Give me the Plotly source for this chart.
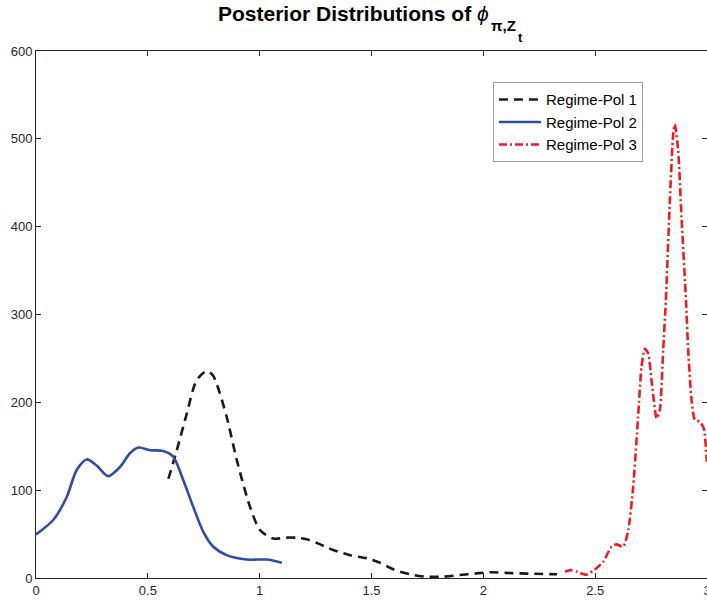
import plotly.graph_objects as go

# Regime-Pol 1 (black dashed)
x1 = [0.592, 0.629, 0.674, 0.718, 0.763, 0.79, 0.808, 0.853, 0.898, 0.957, 1.002, 1.061, 1.12, 1.166,
      1.21, 1.255, 1.329, 1.404, 1.478, 1.538, 1.597, 1.672, 1.746, 1.821, 1.895, 1.97, 2.03, 2.1, 2.2, 2.33]
y1 = [113, 145, 187, 225, 235.6, 231, 221, 183, 134, 81, 54.5, 45, 46, 45.8,
      44, 40, 31.8, 26, 22.4, 17.4, 9.9, 4.2, 1.5, 1.5, 3.4, 5.3, 6.5, 5.8, 5.0, 4.2]

# Regime-Pol 2 (blue solid)
x2 = [0.0, 0.077, 0.137, 0.182, 0.227, 0.271, 0.323, 0.376, 0.42, 0.458, 0.51, 0.569, 0.614, 0.659,
      0.703, 0.748, 0.793, 0.853, 0.942, 1.032, 1.099]
y2 = [49.6, 66, 92, 123, 135, 128, 116, 126.5, 142, 148.5, 145.5, 144.7, 138, 111,
      81, 52.6, 35.6, 26, 21, 21, 17.4]

# Regime-Pol 3 (red dash-dot)
x3 = [2.365, 2.39, 2.42, 2.46, 2.50, 2.536, 2.573, 2.596, 2.625, 2.648, 2.67, 2.692, 2.707, 2.722,
      2.737, 2.752, 2.775, 2.789, 2.804, 2.816, 2.834, 2.849, 2.856, 2.871, 2.886, 2.906, 2.916,
      2.931, 2.946, 2.968, 2.986, 2.998, 3.0]
y3 = [7.2, 9, 7, 3.8, 10, 18.5, 35.6, 38.3, 35.6, 54.6, 104, 183.5, 240, 261,
      255.6, 225, 181.7, 191, 259, 316, 430, 506, 516.5, 487, 411, 316, 259,
      202.5, 180, 178, 170, 138, 132]

x_ticks = [0, 0.5, 1, 1.5, 2, 2.5, 3]
x_tick_labels = ["0", "0.5", "1", "1.5", "2", "2.5", "3"]
y_ticks = [0, 100, 200, 300, 400, 500, 600]
y_tick_labels = ["0", "100", "200", "300", "400", "500", "600"]

FONT = "Liberation Sans, Arial, Helvetica, sans-serif"
AX = "#262626"

fig = go.Figure()
fig.add_trace(go.Scatter(x=x1, y=y1, mode="lines", name="Regime-Pol 1",
                         line=dict(color="#1a1a1a", width=2.6, dash="9px,6px", shape="spline", smoothing=0.8)))
fig.add_trace(go.Scatter(x=x2, y=y2, mode="lines", name="Regime-Pol 2",
                         line=dict(color="#2f4ea2", width=2.6, shape="spline", smoothing=0.8)))
fig.add_trace(go.Scatter(x=x3, y=y3, mode="lines", name="Regime-Pol 3",
                         line=dict(color="#f01a24", width=2.6, dash="8px,3px,2px,3px", shape="spline", smoothing=0.6)))

fig.update_layout(
    width=707, height=603,
    margin=dict(l=36, r=0, t=51, b=25, autoexpand=False),
    paper_bgcolor="white", plot_bgcolor="white",
    font=dict(family=FONT, size=13, color=AX),
    showlegend=True,
    legend=dict(x=0.681, y=0.9406, xanchor="left", yanchor="top",
                bgcolor="white", bordercolor="#a0a0a0", borderwidth=1,
                font=dict(family=FONT, size=15, color="#000000"),
                tracegroupgap=0, itemwidth=42),
)
# Title pieces: main text with phi, subscript, and sub-subscript
fig.add_annotation(text="<b>Posterior Distributions of </b><i>ϕ</i>", xref="paper", yref="paper",
                   x=0.678, y=1.072, xanchor="right", yanchor="middle", showarrow=False,
                   font=dict(family=FONT, size=21, color="#000000"))
fig.add_annotation(text="<b>π,Z</b>", xref="paper", yref="paper",
                   x=0.675, y=1.049, xanchor="left", yanchor="middle", showarrow=False,
                   font=dict(family=FONT, size=15, color="#000000"))
fig.add_annotation(text="<b>t</b>", xref="paper", yref="paper",
                   x=0.716, y=1.025, xanchor="left", yanchor="middle", showarrow=False,
                   font=dict(family=FONT, size=13, color="#000000"))

fig.update_xaxes(range=[0, 3], tickvals=x_ticks, ticktext=x_tick_labels, automargin=False,
                 ticklabeloverflow="allow",
                 showgrid=False, zeroline=False, showline=True, linecolor=AX, linewidth=1,
                 mirror="ticks", ticks="inside", ticklen=5, tickcolor=AX,
                 tickfont=dict(size=13, color=AX, family=FONT))
fig.update_yaxes(range=[0, 600], tickvals=y_ticks, ticktext=y_tick_labels, automargin=False,
                 ticklabeloverflow="allow",
                 showgrid=False, zeroline=False, showline=True, linecolor=AX, linewidth=1,
                 mirror="ticks", ticks="inside", ticklen=5, tickcolor=AX,
                 tickfont=dict(size=13, color=AX, family=FONT))

fig.write_html("out.html", config={"displayModeBar": False},
               post_script="document.body.style.margin='0px';")
